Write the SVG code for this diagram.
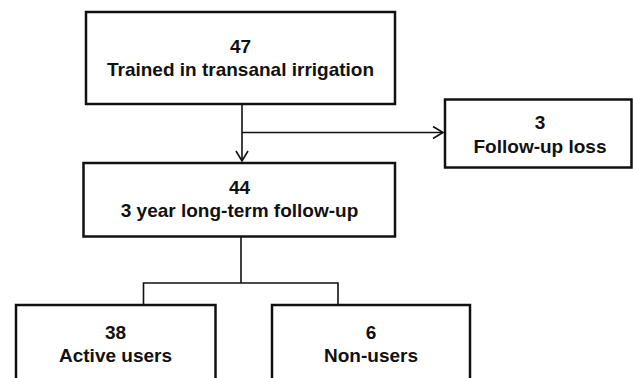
<svg xmlns="http://www.w3.org/2000/svg" width="633" height="378" viewBox="0 0 633 378">
<style>
.box{fill:#fff;stroke:#111;stroke-width:2.5}
.t{font-family:"Liberation Sans",Arial,sans-serif;font-size:19px;font-weight:bold;fill:#111;text-anchor:middle}
.c{fill:none;stroke:#111;stroke-width:1.6}
.ah{fill:none;stroke:#111;stroke-width:1.6;stroke-linejoin:miter}
</style>
<rect width="633" height="378" fill="#fff"/>
<g id="connectors">
<path class="c" d="M242 104 V161"/>
<path class="ah" d="M236 151 L242 161 L248 151"/>
<path class="c" d="M242 132.5 H443"/>
<path class="ah" d="M433 126.5 L443 132.5 L433 138.5"/>
<path class="c" d="M241 237 V283 M143.5 305 V283 H338 V305"/>
</g>
<g id="n1">
<rect class="box" x="86" y="12" width="309" height="92"/>
<text class="t" x="240.5" y="52.5">47</text>
<text class="t" x="240.5" y="75.5">Trained in transanal irrigation</text>
</g>
<g id="n2">
<rect class="box" x="445" y="99.5" width="186.5" height="68"/>
<text class="t" x="540" y="129">3</text>
<text class="t" x="540" y="152.5">Follow-up loss</text>
</g>
<g id="n3">
<rect class="box" x="83.5" y="163" width="311.5" height="73.5"/>
<text class="t" x="239.5" y="193.5">44</text>
<text class="t" x="239.5" y="216.5">3 year long-term follow-up</text>
</g>
<g id="n4">
<rect class="box" x="16" y="305" width="199.5" height="100"/>
<text class="t" x="115.5" y="339">38</text>
<text class="t" x="115.5" y="362">Active users</text>
</g>
<g id="n5">
<rect class="box" x="272" y="305" width="198" height="100"/>
<text class="t" x="371" y="339">6</text>
<text class="t" x="371" y="362">Non-users</text>
</g>
</svg>
